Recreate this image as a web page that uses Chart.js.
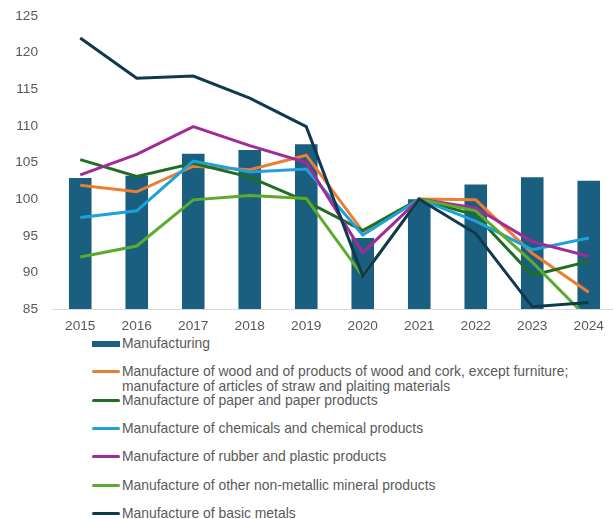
<!DOCTYPE html>
<html>
<head>
<meta charset="utf-8">
<script src="https://cdn.jsdelivr.net/npm/chart.js@4.4.1/dist/chart.umd.min.js"></script>
<style>
  html, body { margin: 0; padding: 0; background: #fff; overflow: hidden; width: 613px; height: 519px; }
  #wrap { position: absolute; left: 0; top: 0; width: 620px; height: 334px; }
  #legend { position: absolute; left: 92px; top: 336px; font-family: "Liberation Sans", Arial, sans-serif; font-size: 13.9px; color: #595959; }
  .item { position: relative; height: 28.35px; }
  .sw { position: absolute; left: 0; width: 28px; }
  .txt { position: absolute; left: 30px; top: 0; width: 475px; line-height: 15px; white-space: normal; }
</style>
</head>
<body>
<div id="wrap"><canvas id="chart"></canvas></div>
<div id="legend"></div>
<script>
// categories and series
const years = ['2015', '2016', '2017', '2018', '2019', '2020', '2021', '2022', '2023', '2024'];
const manufacturing = [102.9, 103.2, 106.2, 106.7, 107.5, 94.7, 100.0, 102.0, 103.0, 102.5];
const wood = [101.9, 101.0, 104.5, 104.0, 106.0, 95.6, 100.0, 99.9, 92.6, 87.3];
const paper = [105.4, 103.1, 104.9, 103.0, 99.7, 95.7, 100.0, 97.8, 89.6, 91.5];
const chemicals = [97.5, 98.4, 105.2, 103.7, 104.1, 95.1, 100.0, 97.0, 93.1, 94.7];
const rubber = [103.3, 106.1, 109.9, 107.3, 105.0, 92.7, 100.0, 98.8, 94.2, 92.2];
const nonMetallic = [92.1, 93.6, 99.9, 100.5, 100.1, 89.5, 100.0, 98.4, 91.4, 83.6];
const basicMetals = [122.0, 116.5, 116.8, 113.8, 109.9, 89.5, 100.0, 95.3, 85.3, 85.9];

const labels = [
    'Manufacturing',
    'Manufacture of wood and of products of wood and cork, except furniture; manufacture of articles of straw and plaiting materials',
    'Manufacture of paper and paper products',
    'Manufacture of chemicals and chemical products',
    'Manufacture of rubber and plastic products',
    'Manufacture of other non-metallic mineral products',
    'Manufacture of basic metals'
];
const colors = ['#1a5f80', '#ed7d31', '#1f6e23', '#1da1db', '#a12b97', '#5bab2e', '#10394f'];
const yTicks = { min: 85, max: 125, step: 5 };

const lineSeries = [wood, paper, chemicals, rubber, nonMetallic, basicMetals];

const datasets = [{
    type: 'bar',
    label: labels[0],
    data: manufacturing,
    backgroundColor: colors[0],
    barPercentage: 0.4,
    categoryPercentage: 1,
    order: 10
}];
lineSeries.forEach((s, i) => {
    datasets.push({
        type: 'line',
        label: labels[i + 1],
        data: s,
        borderColor: colors[i + 1],
        backgroundColor: colors[i + 1],
        borderWidth: 3,
        pointRadius: 0,
        tension: 0,
        order: 6 - i   // later series on top, like the original
    });
});

const font = { family: '"Liberation Sans", Arial, sans-serif', size: 13.7 };

new Chart(document.getElementById('chart'), {
    type: 'bar',
    data: { labels: years, datasets },
    options: {
        responsive: true,
        maintainAspectRatio: false,
        animation: false,
        layout: { padding: { top: 16, right: 3, left: 0, bottom: 0 } },
        plugins: { legend: { display: false }, tooltip: { enabled: false } },
        scales: {
            x: {
                offset: true,
                grid: { display: false, drawTicks: false },
                border: { display: true, color: '#d9d9d9', width: 1 },
                ticks: { color: '#595959', font, padding: 9, maxRotation: 0 },
                afterFit: s => { s.height = 25; }
            },
            y: {
                min: yTicks.min,
                max: yTicks.max,
                grid: { display: false, drawTicks: false },
                border: { display: false },
                ticks: { stepSize: yTicks.step, color: '#595959', font, padding: 14 },
                afterFit: s => { s.width = 52; s.paddingTop = 0; s.paddingBottom = 0; }
            }
        }
    }
});

// legend under the chart
const legend = document.getElementById('legend');
labels.forEach((name, i) => {
    const item = document.createElement('div');
    item.className = 'item';
    const sw = document.createElement('div');
    sw.className = 'sw';
    if (i === 0) {
        sw.style.top = '4.5px'; sw.style.height = '6.5px';
    } else {
        sw.style.top = '6px'; sw.style.height = '3px'; sw.style.borderRadius = '1.5px';
    }
    sw.style.background = colors[i];
    const txt = document.createElement('div');
    txt.className = 'txt';
    txt.textContent = name;
    item.appendChild(sw);
    item.appendChild(txt);
    legend.appendChild(item);
});
</script>
</body>
</html>
